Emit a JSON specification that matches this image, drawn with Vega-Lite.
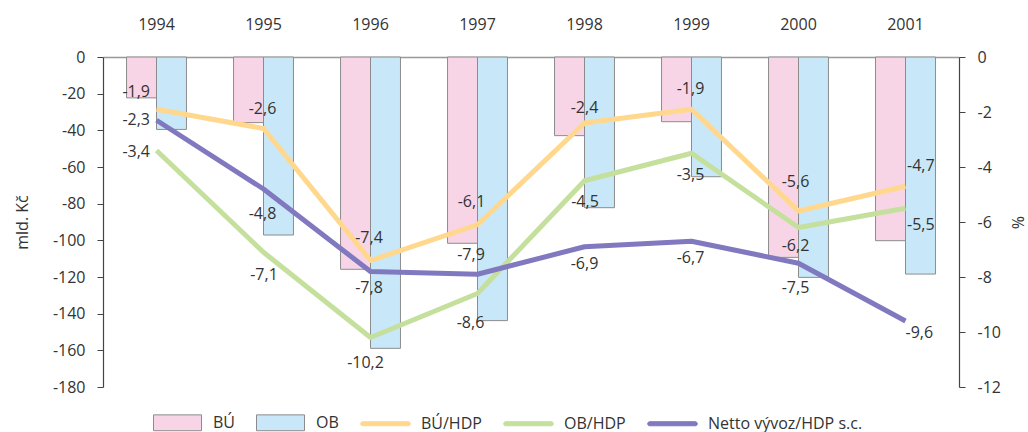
{
  "$schema": "https://vega.github.io/schema/vega-lite/v6.json",
  "width": 856,
  "height": 330,
  "autosize": {"type": "none"},
  "padding": {"left": 103, "top": 57, "right": 69, "bottom": 45},
  "background": "white",
  "config": {
    "locale": {"number": {"decimal": ",", "thousands": " ", "grouping": [3], "currency": ["", " Kč"], "minus": "-"}},
    "font": "Open Sans",
    "view": {"stroke": null},
    "axis": {"labelFont": "Open Sans", "labelFontSize": 16, "labelColor": "#333333", "titleFont": "Open Sans", "titleFontSize": 16, "titleFontWeight": "normal", "titleColor": "#333333", "grid": false},
    "text": {"font": "Open Sans", "fontSize": 16, "color": "#333333"},
    "legend": {"symbolStrokeWidth": 1, "symbolOpacity": 1}
  },
  "datasets": {
    "bars": [
      {"year": 1994, "series": "BÚ", "value": -22.3},
      {"year": 1994, "series": "OB", "value": -39.5},
      {"year": 1995, "series": "BÚ", "value": -35.8},
      {"year": 1995, "series": "OB", "value": -97.1},
      {"year": 1996, "series": "BÚ", "value": -115.8},
      {"year": 1996, "series": "OB", "value": -158.9},
      {"year": 1997, "series": "BÚ", "value": -101.6},
      {"year": 1997, "series": "OB", "value": -143.8},
      {"year": 1998, "series": "BÚ", "value": -42.9},
      {"year": 1998, "series": "OB", "value": -82.2},
      {"year": 1999, "series": "BÚ", "value": -35.3},
      {"year": 1999, "series": "OB", "value": -65.3},
      {"year": 2000, "series": "BÚ", "value": -109.3},
      {"year": 2000, "series": "OB", "value": -120.2},
      {"year": 2001, "series": "BÚ", "value": -100.2},
      {"year": 2001, "series": "OB", "value": -118.4}
    ],
    "lines": [
      {"year": 1994, "series": "BÚ/HDP", "pct": -1.9},
      {"year": 1995, "series": "BÚ/HDP", "pct": -2.6},
      {"year": 1996, "series": "BÚ/HDP", "pct": -7.4},
      {"year": 1997, "series": "BÚ/HDP", "pct": -6.1},
      {"year": 1998, "series": "BÚ/HDP", "pct": -2.4},
      {"year": 1999, "series": "BÚ/HDP", "pct": -1.9},
      {"year": 2000, "series": "BÚ/HDP", "pct": -5.6},
      {"year": 2001, "series": "BÚ/HDP", "pct": -4.7},
      {"year": 1994, "series": "OB/HDP", "pct": -3.4},
      {"year": 1995, "series": "OB/HDP", "pct": -7.1},
      {"year": 1996, "series": "OB/HDP", "pct": -10.2},
      {"year": 1997, "series": "OB/HDP", "pct": -8.6},
      {"year": 1998, "series": "OB/HDP", "pct": -4.5},
      {"year": 1999, "series": "OB/HDP", "pct": -3.5},
      {"year": 2000, "series": "OB/HDP", "pct": -6.2},
      {"year": 2001, "series": "OB/HDP", "pct": -5.5},
      {"year": 1994, "series": "Netto vývoz/HDP s.c.", "pct": -2.3},
      {"year": 1995, "series": "Netto vývoz/HDP s.c.", "pct": -4.8},
      {"year": 1996, "series": "Netto vývoz/HDP s.c.", "pct": -7.8},
      {"year": 1997, "series": "Netto vývoz/HDP s.c.", "pct": -7.9},
      {"year": 1998, "series": "Netto vývoz/HDP s.c.", "pct": -6.9},
      {"year": 1999, "series": "Netto vývoz/HDP s.c.", "pct": -6.7},
      {"year": 2000, "series": "Netto vývoz/HDP s.c.", "pct": -7.5},
      {"year": 2001, "series": "Netto vývoz/HDP s.c.", "pct": -9.6}
    ]
  },
  "encoding": {
    "x": {
      "field": "year", "type": "ordinal",
      "scale": {"paddingInner": 0.44, "paddingOuter": 0.22},
      "axis": {"orient": "top", "title": null, "ticks": false, "tickSize": 0, "labelAngle": 0, "labelPadding": 25, "domainColor": "#999999", "domainWidth": 1.5}
    }
  },
  "layer": [
    {
      "data": {"name": "bars"},
      "mark": {"type": "bar", "stroke": "#8c8c8c", "strokeWidth": 1},
      "encoding": {
        "xOffset": {"field": "series", "type": "nominal", "scale": {"domain": ["BÚ", "OB"], "paddingInner": 0, "paddingOuter": 0}},
        "y": {
          "field": "value", "type": "quantitative",
          "scale": {"domain": [-180, 0], "nice": false, "zero": false},
          "axis": {"orient": "left", "title": "mld. Kč", "values": [0, -20, -40, -60, -80, -100, -120, -140, -160, -180], "format": "d", "domainColor": "#444444", "domainWidth": 1.2, "tickColor": "#444444", "tickSize": 6, "labelPadding": 12, "titlePadding": 22}
        },
        "fill": {
          "field": "series", "type": "nominal",
          "scale": {"domain": ["BÚ", "OB", "BÚ/HDP", "OB/HDP", "Netto vývoz/HDP s.c."], "range": ["#F8D5E6", "#C8E8F9", "#FFD88E", "#C5E09D", "#8079BF"]},
          "legend": {"title": null, "orient": "bottom", "direction": "horizontal", "symbolSize": 2304, "symbolStrokeWidth": 1, "symbolOpacity": 1, "labelFont": "Open Sans", "labelFontSize": 16, "labelColor": "#333333", "labelOffset": 11, "columnPadding": 19, "offset": -39, "padding": 50}
        }
      }
    },
    {
      "data": {"name": "lines"},
      "encoding": {
        "y": {
          "field": "pct", "type": "quantitative",
          "scale": {"domain": [-12, 0], "nice": false, "zero": false},
          "axis": {"orient": "right", "title": "%", "values": [0, -2, -4, -6, -8, -10, -12], "format": "d", "domainColor": "#444444", "domainWidth": 1.2, "tickColor": "#444444", "tickSize": 6, "labelPadding": 12, "titlePadding": 8}
        }
      },
      "layer": [
        {
          "mark": {"type": "line", "strokeWidth": 5, "strokeJoin": "round"},
          "encoding": {
            "stroke": {
              "field": "series", "type": "nominal",
              "scale": {"domain": ["BÚ", "OB", "BÚ/HDP", "OB/HDP", "Netto vývoz/HDP s.c."], "range": ["#8c8c8c", "#8c8c8c", "#FFD88E", "#C5E09D", "#8079BF"]},
              "legend": {"title": null, "orient": "bottom", "direction": "horizontal", "symbolSize": 2304, "symbolStrokeWidth": 1, "symbolOpacity": 1, "labelFont": "Open Sans", "labelFontSize": 16, "labelColor": "#333333", "labelOffset": 11, "columnPadding": 19, "offset": -39, "padding": 50}
            }
          }
        },
        {
          "mark": {"type": "point", "opacity": 0, "strokeWidth": 1, "filled": true},
          "encoding": {
            "fill": {"field": "series", "type": "nominal", "legend": {"title": null, "orient": "bottom", "direction": "horizontal", "symbolSize": 2304, "symbolStrokeWidth": 1, "symbolOpacity": 1, "labelFont": "Open Sans", "labelFontSize": 16, "labelColor": "#333333", "labelOffset": 11, "columnPadding": 19, "offset": -39, "padding": 50}},
            "stroke": {"field": "series", "type": "nominal", "legend": {"title": null, "orient": "bottom", "direction": "horizontal", "symbolSize": 2304, "symbolStrokeWidth": 1, "symbolOpacity": 1, "labelFont": "Open Sans", "labelFontSize": 16, "labelColor": "#333333", "labelOffset": 11, "columnPadding": 19, "offset": -39, "padding": 50}},
            "shape": {
              "field": "series", "type": "nominal",
              "scale": {"domain": ["BÚ", "OB", "BÚ/HDP", "OB/HDP", "Netto vývoz/HDP s.c."], "range": ["M-1,-0.33H1V0.33H-1Z", "M-1,-0.33H1V0.33H-1Z", "M-0.95,-0.085H0.95A0.085,0.085 0 0 1 0.95,0.085H-0.95A0.085,0.085 0 0 1 -0.95,-0.085Z", "M-0.95,-0.085H0.95A0.085,0.085 0 0 1 0.95,0.085H-0.95A0.085,0.085 0 0 1 -0.95,-0.085Z", "M-0.95,-0.085H0.95A0.085,0.085 0 0 1 0.95,0.085H-0.95A0.085,0.085 0 0 1 -0.95,-0.085Z"]},
              "legend": {"title": null, "orient": "bottom", "direction": "horizontal", "symbolSize": 2304, "symbolStrokeWidth": 1, "symbolOpacity": 1, "labelFont": "Open Sans", "labelFontSize": 16, "labelColor": "#333333", "labelOffset": 11, "columnPadding": 19, "offset": -39, "padding": 50}
            }
          }
        },
        {"transform": [{"filter": "datum.year == 1994 && datum.series == 'BÚ/HDP'"}], "mark": {"type": "text", "align": "right", "dx": -6.5, "dy": -17}, "encoding": {"text": {"field": "pct", "type": "quantitative", "format": ".1f"}}},
        {"transform": [{"filter": "datum.year == 1994 && datum.series == 'Netto vývoz/HDP s.c.'"}], "mark": {"type": "text", "align": "right", "dx": -6.5, "dy": 0}, "encoding": {"text": {"field": "pct", "type": "quantitative", "format": ".1f"}}},
        {"transform": [{"filter": "datum.year == 1994 && datum.series == 'OB/HDP'"}], "mark": {"type": "text", "align": "right", "dx": -6.5, "dy": 1.5}, "encoding": {"text": {"field": "pct", "type": "quantitative", "format": ".1f"}}},
        {"transform": [{"filter": "datum.year == 1995 && datum.series == 'BÚ/HDP'"}], "mark": {"type": "text", "dx": -1, "dy": -19.5}, "encoding": {"text": {"field": "pct", "type": "quantitative", "format": ".1f"}}},
        {"transform": [{"filter": "datum.year == 1995 && datum.series == 'Netto vývoz/HDP s.c.'"}], "mark": {"type": "text", "dx": -1, "dy": 25}, "encoding": {"text": {"field": "pct", "type": "quantitative", "format": ".1f"}}},
        {"transform": [{"filter": "datum.year == 1995 && datum.series == 'OB/HDP'"}], "mark": {"type": "text", "dx": 0.5, "dy": 23}, "encoding": {"text": {"field": "pct", "type": "quantitative", "format": ".1f"}}},
        {"transform": [{"filter": "datum.year == 1996 && datum.series == 'BÚ/HDP'"}], "mark": {"type": "text", "dx": -1.5, "dy": -22.5}, "encoding": {"text": {"field": "pct", "type": "quantitative", "format": ".1f"}}},
        {"transform": [{"filter": "datum.year == 1996 && datum.series == 'Netto vývoz/HDP s.c.'"}], "mark": {"type": "text", "dx": -1.5, "dy": 16.5}, "encoding": {"text": {"field": "pct", "type": "quantitative", "format": ".1f"}}},
        {"transform": [{"filter": "datum.year == 1996 && datum.series == 'OB/HDP'"}], "mark": {"type": "text", "dx": -5, "dy": 25.5}, "encoding": {"text": {"field": "pct", "type": "quantitative", "format": ".1f"}}},
        {"transform": [{"filter": "datum.year == 1997 && datum.series == 'BÚ/HDP'"}], "mark": {"type": "text", "dx": -6, "dy": -23}, "encoding": {"text": {"field": "pct", "type": "quantitative", "format": ".1f"}}},
        {"transform": [{"filter": "datum.year == 1997 && datum.series == 'Netto vývoz/HDP s.c.'"}], "mark": {"type": "text", "dx": -6.5, "dy": -19}, "encoding": {"text": {"field": "pct", "type": "quantitative", "format": ".1f"}}},
        {"transform": [{"filter": "datum.year == 1997 && datum.series == 'OB/HDP'"}], "mark": {"type": "text", "dx": -7, "dy": 29.5}, "encoding": {"text": {"field": "pct", "type": "quantitative", "format": ".1f"}}},
        {"transform": [{"filter": "datum.year == 1998 && datum.series == 'BÚ/HDP'"}], "mark": {"type": "text", "dx": 0, "dy": -15}, "encoding": {"text": {"field": "pct", "type": "quantitative", "format": ".1f"}}},
        {"transform": [{"filter": "datum.year == 1998 && datum.series == 'OB/HDP'"}], "mark": {"type": "text", "dx": 0.5, "dy": 21}, "encoding": {"text": {"field": "pct", "type": "quantitative", "format": ".1f"}}},
        {"transform": [{"filter": "datum.year == 1998 && datum.series == 'Netto vývoz/HDP s.c.'"}], "mark": {"type": "text", "dx": 0, "dy": 17}, "encoding": {"text": {"field": "pct", "type": "quantitative", "format": ".1f"}}},
        {"transform": [{"filter": "datum.year == 1999 && datum.series == 'BÚ/HDP'"}], "mark": {"type": "text", "dx": -1, "dy": -20}, "encoding": {"text": {"field": "pct", "type": "quantitative", "format": ".1f"}}},
        {"transform": [{"filter": "datum.year == 1999 && datum.series == 'OB/HDP'"}], "mark": {"type": "text", "dx": -1, "dy": 22}, "encoding": {"text": {"field": "pct", "type": "quantitative", "format": ".1f"}}},
        {"transform": [{"filter": "datum.year == 1999 && datum.series == 'Netto vývoz/HDP s.c.'"}], "mark": {"type": "text", "dx": -1, "dy": 17}, "encoding": {"text": {"field": "pct", "type": "quantitative", "format": ".1f"}}},
        {"transform": [{"filter": "datum.year == 2000 && datum.series == 'BÚ/HDP'"}], "mark": {"type": "text", "dx": -3, "dy": -29}, "encoding": {"text": {"field": "pct", "type": "quantitative", "format": ".1f"}}},
        {"transform": [{"filter": "datum.year == 2000 && datum.series == 'OB/HDP'"}], "mark": {"type": "text", "dx": -3, "dy": 18.5}, "encoding": {"text": {"field": "pct", "type": "quantitative", "format": ".1f"}}},
        {"transform": [{"filter": "datum.year == 2000 && datum.series == 'Netto vývoz/HDP s.c.'"}], "mark": {"type": "text", "dx": -3, "dy": 25}, "encoding": {"text": {"field": "pct", "type": "quantitative", "format": ".1f"}}},
        {"transform": [{"filter": "datum.year == 2001 && datum.series == 'BÚ/HDP'"}], "mark": {"type": "text", "align": "left", "dx": 1.5, "dy": -20}, "encoding": {"text": {"field": "pct", "type": "quantitative", "format": ".1f"}}},
        {"transform": [{"filter": "datum.year == 2001 && datum.series == 'OB/HDP'"}], "mark": {"type": "text", "align": "left", "dx": 1.5, "dy": 17}, "encoding": {"text": {"field": "pct", "type": "quantitative", "format": ".1f"}}},
        {"transform": [{"filter": "datum.year == 2001 && datum.series == 'Netto vývoz/HDP s.c.'"}], "mark": {"type": "text", "align": "left", "dx": 0, "dy": 12}, "encoding": {"text": {"field": "pct", "type": "quantitative", "format": ".1f"}}}
      ]
    }
  ],
  "resolve": {"scale": {"y": "independent"}}
}
